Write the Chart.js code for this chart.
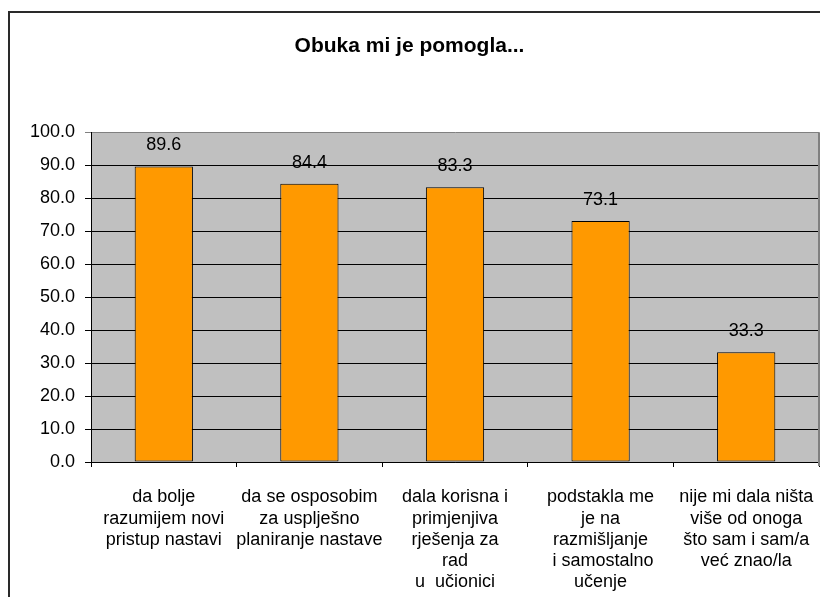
<!DOCTYPE html>
<html>
<head>
<meta charset="utf-8">
<script src="https://cdn.jsdelivr.net/npm/chart.js@4"></script>
<style>
  html, body { margin: 0; padding: 0; background: #ffffff; overflow: hidden; }
  canvas { display: block; }
</style>
</head>
<body>
<canvas id="c" width="820" height="597"></canvas>
<script>
const titleText = 'Obuka mi je pomogla...';
const categories = [
  ['da bolje', 'razumijem novi', 'pristup nastavi'],
  ['da se osposobim', 'za usplješno', 'planiranje nastave'],
  ['dala korisna i', 'primjenjiva', 'rješenja za', 'rad', 'u  učionici'],
  ['podstakla me', 'je na', 'razmišljanje', ' i samostalno', 'učenje'],
  ['nije mi dala ništa', 'više od onoga', 'što sam i sam/a', 'već znao/la']
];
const values = [89.6, 84.4, 83.3, 73.1, 33.3];
const yTicks = { min: 0, max: 100, step: 10 };

const FONT = "'Liberation Sans', Arial, sans-serif";

const framePlugin = {
  id: 'frame',
  beforeDraw(chart) {
    const ctx = chart.ctx, a = chart.chartArea;
    ctx.save();
    ctx.fillStyle = '#ffffff';
    ctx.fillRect(0, 0, chart.width, chart.height);
    ctx.fillStyle = '#C0C0C0';
    ctx.fillRect(a.left, a.top, a.right - a.left, a.bottom - a.top);
    ctx.strokeStyle = '#2a2a2a';
    ctx.lineWidth = 2;
    ctx.beginPath();
    ctx.moveTo(9, chart.height + 5);
    ctx.lineTo(9, 12);
    ctx.lineTo(chart.width + 5, 12);
    ctx.stroke();
    ctx.restore();
  },
  afterDatasetsDraw(chart) {
    const ctx = chart.ctx, a = chart.chartArea;
    ctx.save();
    ctx.strokeStyle = '#808080';
    ctx.lineWidth = 2;
    ctx.beginPath();
    ctx.moveTo(a.right, a.top);
    ctx.lineTo(a.right, a.bottom + 4);
    ctx.stroke();
    ctx.fillStyle = '#000000';
    ctx.font = '18px ' + FONT;
    ctx.textAlign = 'center';
    ctx.textBaseline = 'middle';
    const meta = chart.getDatasetMeta(0);
    meta.data.forEach((bar, i) => {
      ctx.fillText(values[i].toFixed(1), bar.x, bar.y - 21);
    });
    ctx.restore();
  }
};

new Chart(document.getElementById('c'), {
  type: 'bar',
  data: {
    labels: categories,
    datasets: [{
      data: values,
      backgroundColor: '#FF9900',
      borderColor: '#000000',
      borderWidth: 1,
      borderSkipped: false,
      barPercentage: 0.4,
      categoryPercentage: 1.0
    }]
  },
  options: {
    responsive: false,
    animation: false,
    events: [],
    layout: { padding: { left: 0, right: 1, top: 0, bottom: 0 } },
    plugins: {
      legend: { display: false },
      tooltip: { enabled: false },
      title: {
        display: true,
        text: titleText,
        color: '#000000',
        font: { family: FONT, size: 21, weight: 'bold', lineHeight: 1.2 },
        padding: { top: 34, bottom: 73 }
      }
    },
    scales: {
      x: {
        grid: {
          offset: true,
          drawOnChartArea: false,
          drawTicks: true,
          tickLength: 5,
          color: '#000000'
        },
        border: { display: true, color: '#000000', width: 1 },
        ticks: {
          color: '#000000',
          font: { family: FONT, size: 18, lineHeight: 1.17 },
          padding: 20,
          maxRotation: 0,
          autoSkip: false
        },
        afterFit(scale) {
          scale.height = 135;
          scale.paddingLeft = 0;
          scale.paddingRight = 0;
        }
      },
      y: {
        min: yTicks.min,
        max: yTicks.max,
        grid: {
          color: (c) => (c.tick && c.tick.value === yTicks.max) ? '#808080' : '#000000',
          lineWidth: 1,
          tickLength: 6,
          drawTicks: true
        },
        border: { display: true, color: '#000000', width: 1 },
        ticks: {
          stepSize: yTicks.step,
          color: '#000000',
          font: { family: FONT, size: 18 },
          padding: 10,
          callback: (v) => Number(v).toFixed(1)
        },
        afterFit(scale) { scale.width = 91; }
      }
    }
  },
  plugins: [framePlugin]
});
</script>
</body>
</html>
